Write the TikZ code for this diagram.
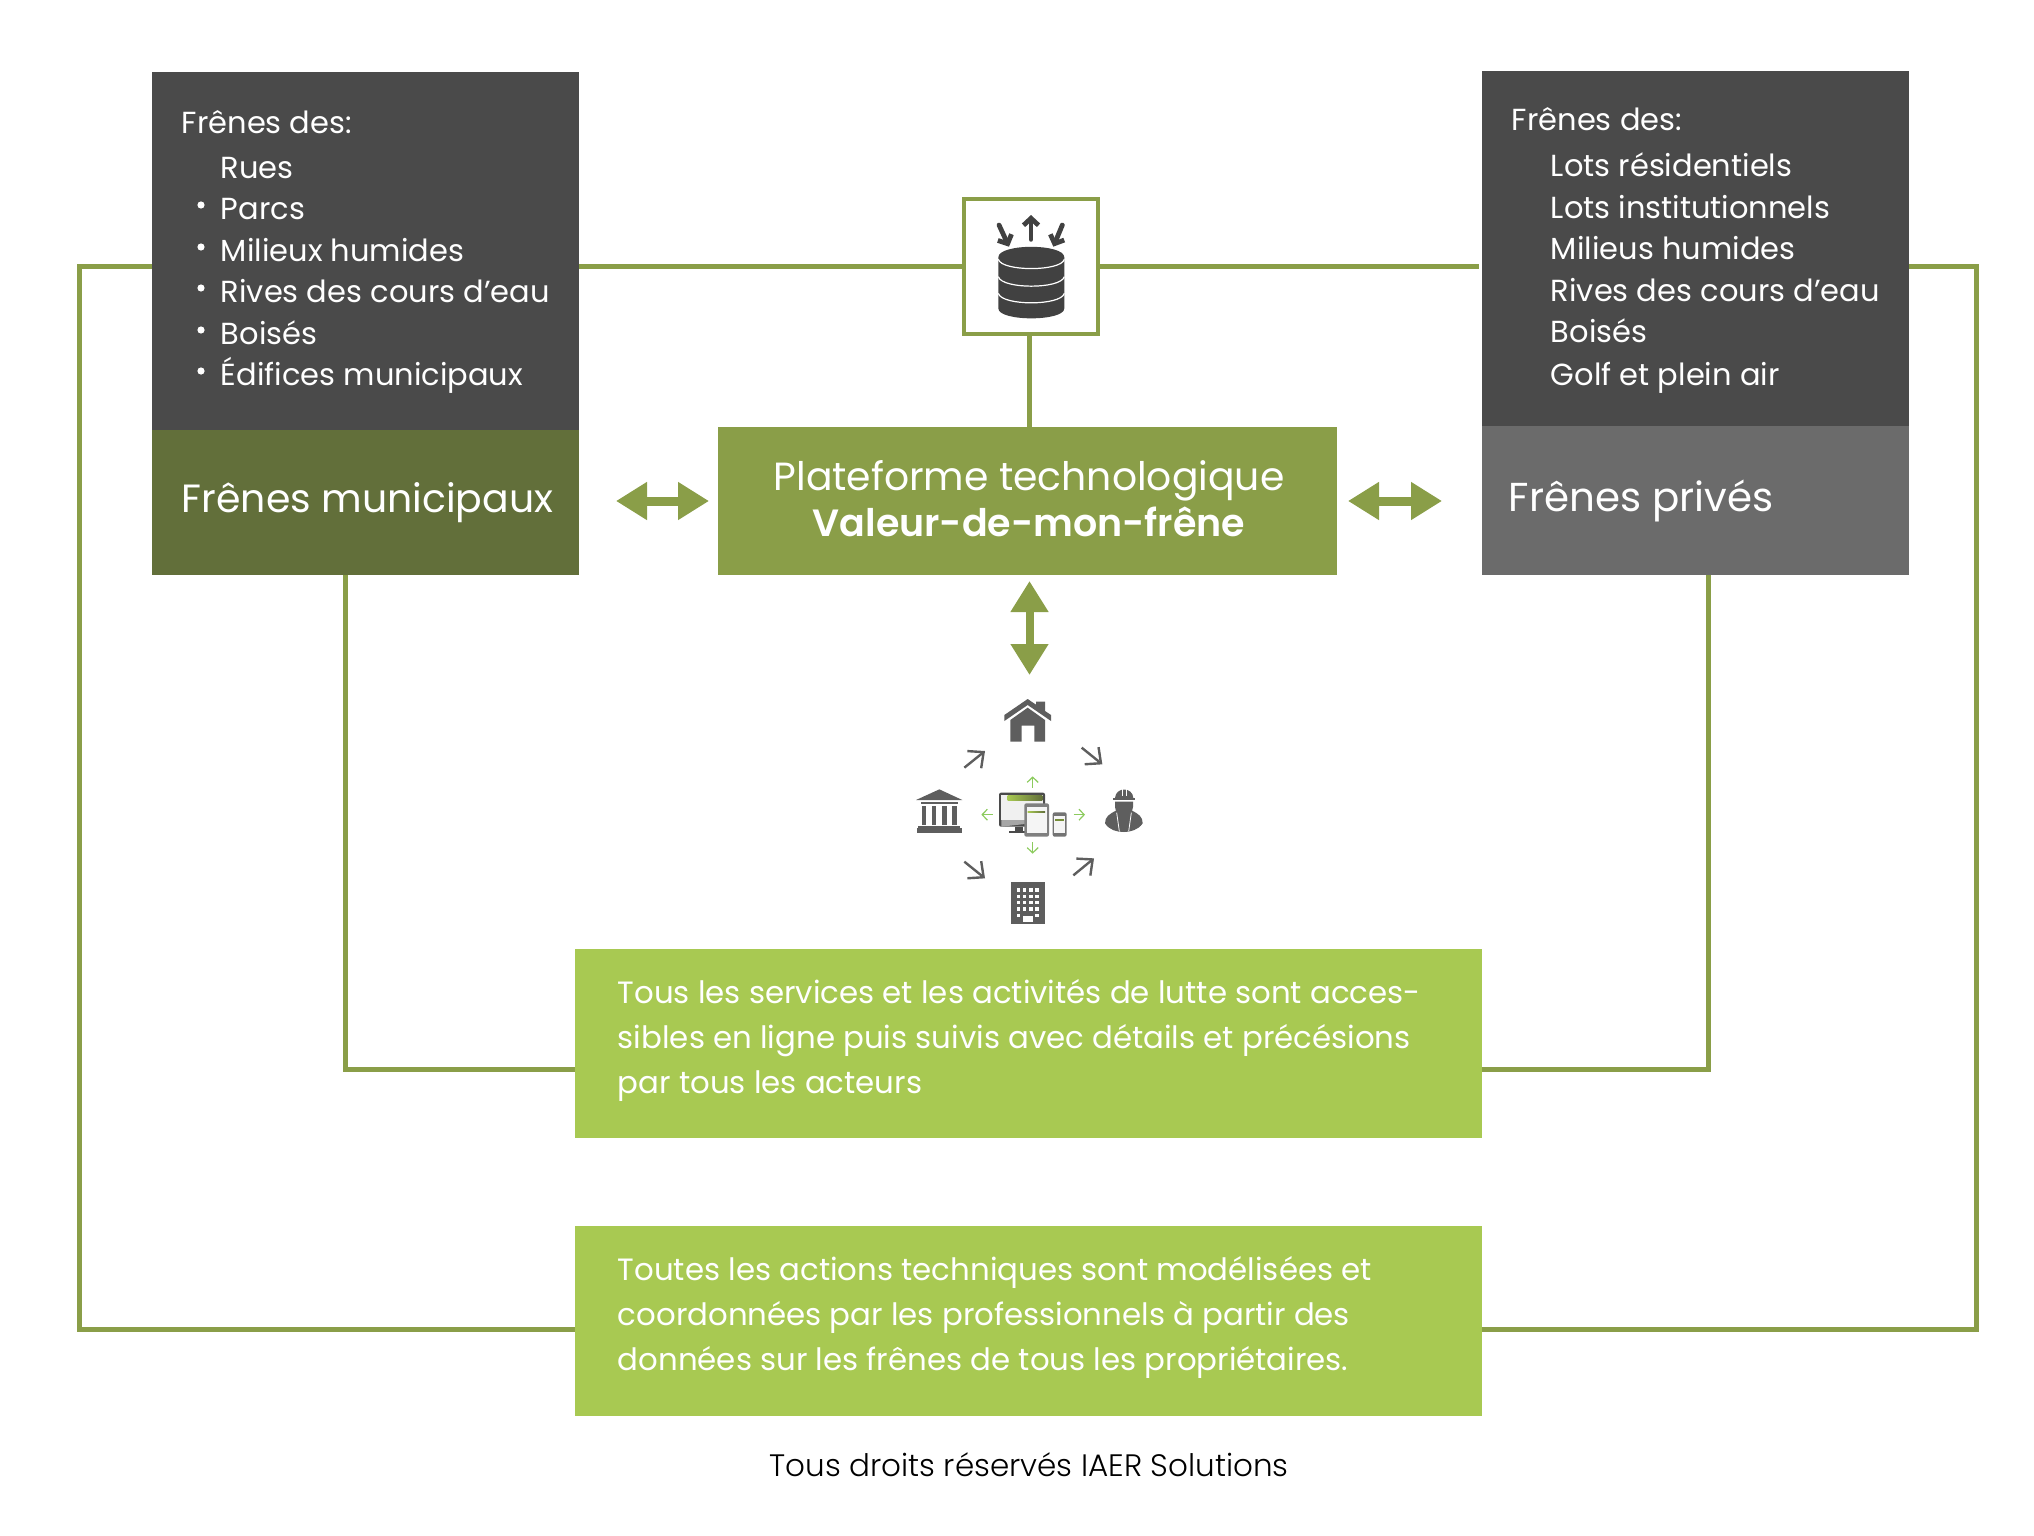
\documentclass[tikz,border=0pt]{standalone}
\usepackage{fontspec}
\setmainfont{Poppins}[BoldFont=* SemiBold]
\newfontfamily\lightfont{Poppins}[UprightFont=* Light]
\usetikzlibrary{arrows.meta}

\definecolor{listgrey}{HTML}{4A4A4A}
\definecolor{privgrey}{HTML}{6B6B6B}
\definecolor{munigreen}{HTML}{626F3A}
\definecolor{platgreen}{HTML}{8A9E48}
\definecolor{actgreen}{HTML}{A8C952}
\definecolor{icongrey}{HTML}{5E5E5E}
\definecolor{dbgrey}{HTML}{414141}
\definecolor{tinygreen}{HTML}{8CCB5E}

\tikzset{
  blockbox/.style={inner sep=0pt,outer sep=0pt},
  listtext/.style={anchor=base west,inner sep=0pt,text=white,font=\fontsize{15.24}{20}\selectfont},
  bigtext/.style={anchor=base west,inner sep=0pt,text=white,font=\fontsize{19.7}{24}\selectfont},
  acttext/.style={anchor=west,inner sep=0pt,text=white,align=left,font=\fontsize{15.4}{22.5}\selectfont},
  linkline/.style={draw=platgreen,line width=2.5pt,line join=miter},
  biarrow/.style={draw=platgreen,line width=4.5pt,{Triangle[length=15.5pt,width=18pt]}-{Triangle[length=15.5pt,width=18pt]}},
  greyarrow/.style={draw=icongrey,line width=1.2pt,-{Straight Barb[length=6pt,width=11pt]}},
  tinyarrow/.style={draw=tinygreen,line width=.6pt,-{Straight Barb[length=2.6pt,width=5.5pt]}},
  dbarrow/.style={draw=dbgrey,line width=2.4pt,line cap=round,-{Straight Barb[length=3.5pt,width=7.5pt]}}
}

\begin{document}
\begin{tikzpicture}[x=0.5pt,y=-0.5pt]
\useasboundingbox (0,0) rectangle (2034,1536);

% boites du haut
\node[blockbox,fill=listgrey,minimum width=213.5pt,minimum height=179pt] (mulist) at (365.5,251) {};
\node[blockbox,fill=munigreen,minimum width=213.5pt,minimum height=72.5pt] (muni) at (365.5,502.5) {};
\node[blockbox,fill=listgrey,minimum width=213.5pt,minimum height=177.5pt] (prlist) at (1695.5,248.5) {};
\node[blockbox,fill=privgrey,minimum width=213.5pt,minimum height=74.5pt] (priv) at (1695.5,500.5) {};
\node[blockbox,fill=platgreen,minimum width=309.5pt,minimum height=74pt] (plat) at (1027.5,501) {};
\node[blockbox,fill=white,draw=platgreen,line width=2.2pt,minimum width=67pt,minimum height=67.5pt] (data) at (1031,266.5) {};
\node[blockbox,fill=actgreen,minimum width=453.75pt,minimum height=94.75pt] (tous) at (1028.25,1043.25) {};
\node[blockbox,fill=actgreen,minimum width=453.75pt,minimum height=94.85pt] (toutes) at (1028.25,1320.85) {};

% liaisons
\coordinate (stubx) at (1029,0);
\coordinate (outw) at (79,1329);
\coordinate (oute) at (1976.5,1329);
\coordinate (innw) at (345,1069.5);
\coordinate (inne) at (1708,1069.5);
\draw[linkline] (mulist.east |- data.west) -- (data.west);
\draw[linkline,shorten >=1.5pt] (data.east) -- (prlist.west |- data.east);
\draw[linkline] (data.south -| stubx) -- (plat.north -| stubx);
\draw[linkline] (mulist.west |- data.west) -| (outw) -- (toutes.west |- outw);
\draw[linkline] (prlist.east |- data.east) -| (oute) -- (toutes.east |- oute);
\draw[linkline] (muni.south -| innw) |- (tous.west |- innw);
\draw[linkline] (priv.south -| inne) |- (tous.east |- inne);

% doubles fleches
\coordinate (usertop) at (1029.5,675);
\draw[biarrow,shorten <=18.5pt,shorten >=4.5pt] (muni.east |- plat.west) -- (plat.west);
\draw[biarrow,shorten <=5.5pt,shorten >=20pt] (plat.east) -- (priv.west |- plat.east);
\draw[biarrow,line width=4pt,shorten <=3pt] (plat.south -| usertop) -- (usertop);

% listes
\node[listtext] (mu0) at (181.5,133.5) {Frênes des:};
\node[listtext] (mu1) at (220.5,178) {Rues};
\node[listtext] (mu2) at (220.5,219) {Parcs};
\node[listtext] (mu3) at (220.5,261) {Milieux humides};
\node[listtext] (mu4) at (220.5,302) {Rives des cours d’eau};
\node[listtext] (mu5) at (220.5,344) {Boisés};
\node[listtext] (mu6) at (220.5,385) {Édifices municipaux};
\foreach \yy in {205,247,288,330,371}
  \fill[white] (201,\yy) circle (3.6);

\node[listtext] (pr0) at (1511.5,131) {Frênes des:};
\node[listtext] (pr1) at (1550.5,176.5) {Lots résidentiels};
\node[listtext] (pr2) at (1550.5,218) {Lots institutionnels};
\node[listtext] (pr3) at (1550.5,259.5) {Milieus humides};
\node[listtext] (pr4) at (1550.5,301.5) {Rives des cours d’eau};
\node[listtext] (pr5) at (1550.5,342) {Boisés};
\node[listtext] (pr6) at (1550.5,385) {Golf et plein air};

% titres
\node[bigtext] (munit) at (181.5,512) {Frênes municipaux};
\node[bigtext,font=\fontsize{20.2}{24}\selectfont] (privt) at (1508.5,511) {Frênes privés};
\node[bigtext,anchor=base,font=\fontsize{19.65}{24}\selectfont] (platt) at (1029,490.5) {Plateforme technologique};
\node[bigtext,anchor=base,font=\fontsize{19}{24}\selectfont\bfseries] (platb) at (1029,536) {Valeur-de-mon-frêne};

% textes verts
\node[acttext] (tousl) at (617.5,1040.5) {Tous les services et les activités de lutte sont acces-\\sibles en ligne puis suivis avec détails et précésions\\par tous les acteurs};
\node[acttext] (toutesl) at (617.5,1317.5) {Toutes les actions techniques sont modélisées et\\coordonnées par les professionnels à partir des\\données sur les frênes de tous les propriétaires.};
\node[anchor=base,inner sep=0pt,font=\lightfont\fontsize{15.5}{20}\selectfont] (droits) at (1029,1476.7) {Tous droits réservés IAER Solutions};

% icone base de donnees
\begin{scope}[shift={(940,180)},x=0.16667pt,y=-0.16667pt]
  \fill[dbgrey] (175,232) -- (175,385) .. controls (175,425) and (373,425) .. (373,385) -- (373,232) .. controls (373,190) and (175,190) .. (175,232) -- cycle;
  \draw[white,line width=.6pt] (175,238) .. controls (185,275) and (363,275) .. (373,238);
  \draw[white,line width=.6pt] (175,290) .. controls (185,328) and (363,328) .. (373,290);
  \draw[white,line width=.6pt] (175,340) .. controls (185,378) and (363,378) .. (373,340);
  \coordinate (dba) at (177,135);
  \coordinate (dbb) at (207,200);
  \coordinate (dbc) at (273,178);
  \coordinate (dbd) at (273,105);
  \coordinate (dbe) at (367,135);
  \coordinate (dbf) at (340,200);
  \draw[dbarrow] (dba) -- (dbb);
  \draw[dbarrow] (dbc) -- (dbd);
  \draw[dbarrow] (dbe) -- (dbf);
\end{scope}

% icones des acteurs
\begin{scope}[shift={(900,660)},x=0.16667pt,y=-0.16667pt]
  % maison
  \fill[icongrey] (313,165) -- (383,117) -- (408,134) -- (408,125) -- (435,125) -- (435,153) -- (453,165) -- (453,183) -- (383,135) -- (313,183) -- cycle;
  \fill[icongrey] (331,180) -- (383,143) -- (435,180) -- (435,245) -- (403,245) -- (403,197) -- (365,197) -- (365,245) -- (331,245) -- cycle;
  % institution
  \fill[icongrey] (48,420) -- (118,388) -- (187,420) -- cycle;
  \fill[icongrey] (62,425) rectangle (173,433);
  \foreach \xx in {65,95,126,157}
    \fill[icongrey] (\xx,437) rectangle (\xx+14,496);
  \fill[icongrey] (55,499) rectangle (180,505);
  \fill[icongrey] (50,505) rectangle (187,518);
  % ouvrier
  \fill[icongrey] (645,414) .. controls (647,380) and (698,380) .. (700,414) -- cycle;
  \fill[icongrey] (639,414) rectangle (706,419);
  \draw[white,line width=.3pt] (666,388) -- (666,408);
  \draw[white,line width=.3pt] (680,388) -- (680,408);
  \fill[icongrey] (645,425) -- (699,425) -- (699,440) .. controls (697,482) and (647,482) .. (645,440) -- cycle;
  \fill[icongrey] (615,490) .. controls (615,470) and (628,462) .. (648,452) -- (696,452) .. controls (716,462) and (728,470) .. (728,490) .. controls (715,510) and (690,516) .. (672,516) .. controls (650,516) and (628,510) .. (615,490) -- cycle;
  \draw[white,line width=.4pt] (650,458) -- (658,514);
  \draw[white,line width=.4pt] (694,458) -- (686,514);
  % immeuble
  \fill[icongrey] (333,665) rectangle (434,793);
  \foreach \xx in {351,369,388,406}
    \foreach \yy in {685,704,723,742}
      \fill[white] (\xx,\yy) rectangle (\xx+10,\yy+10);
  \fill[white] (351,761) rectangle (361,771);
  \fill[white] (406,761) rectangle (416,771);
  \fill[white] (369,767) rectangle (399,787);
  % appareils
  \fill[icongrey!80!black,rounded corners=1pt] (297,398) rectangle (435,500);
  \fill[white!94!black] (304,405) rectangle (428,480);
  \fill[gray!70] (304,480) -- (428,480) -- (428,486) -- (304,500) -- cycle;
  \shade[left color=actgreen,right color=munigreen] (323,407) rectangle (427,420);
  \fill[icongrey!80!black] (345,500) rectangle (370,513);
  \fill[icongrey!80!black] (327,513) rectangle (378,519);
  \fill[gray,rounded corners=1pt] (373,430) rectangle (447,530);
  \fill[white!96!black] (380,442) rectangle (440,518);
  \shade[left color=actgreen,right color=munigreen] (383,453) rectangle (435,458);
  \fill[gray!90!black,rounded corners=1pt] (458,457) rectangle (500,530);
  \fill[white!96!black] (462,468) rectangle (496,520);
  \fill[actgreen!70!black] (465,478) rectangle (492,482);
  % fleches
  \coordinate (gna) at (193,323); \coordinate (gnb) at (255,273);
  \coordinate (gea) at (545,263); \coordinate (geb) at (607,313);
  \coordinate (gsa) at (193,605); \coordinate (gsb) at (255,655);
  \coordinate (gwa) at (520,646); \coordinate (gwb) at (582,595);
  \draw[greyarrow] (gna) -- (gnb);
  \draw[greyarrow] (gea) -- (geb);
  \draw[greyarrow] (gsa) -- (gsb);
  \draw[greyarrow] (gwa) -- (gwb);
  \coordinate (tua) at (398,383); \coordinate (tub) at (398,349);
  \coordinate (tda) at (398,547); \coordinate (tdb) at (398,581);
  \coordinate (tla) at (278,464); \coordinate (tlb) at (244,464);
  \coordinate (tra) at (521,464); \coordinate (trb) at (555,464);
  \draw[tinyarrow] (tua) -- (tub);
  \draw[tinyarrow] (tda) -- (tdb);
  \draw[tinyarrow] (tla) -- (tlb);
  \draw[tinyarrow] (tra) -- (trb);
\end{scope}

\end{tikzpicture}
\end{document}
